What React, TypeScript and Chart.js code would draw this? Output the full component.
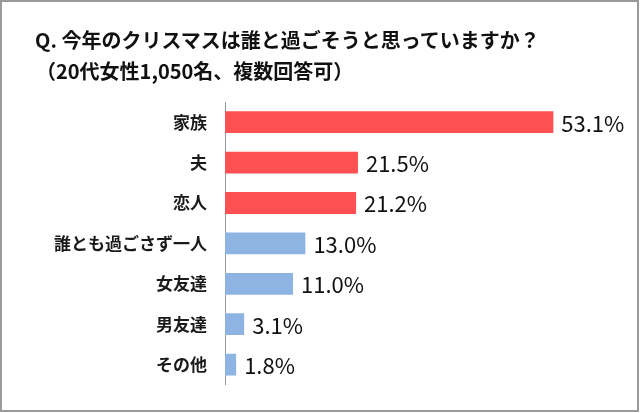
import React, { useEffect, useRef } from "react";
import { Chart, registerables } from "chart.js";

Chart.register(...registerables);

const categories = ["家族", "夫", "恋人", "誰とも過ごさず一人", "女友達", "男友達", "その他"];
const values = [53.1, 21.5, 21.2, 13.0, 11.0, 3.1, 1.8];
const barColors = ["#fd5052", "#fd5052", "#fd5052", "#8eb4e3", "#8eb4e3", "#8eb4e3", "#8eb4e3"];
const titleLine1 = "Q. 今年のクリスマスは誰と過ごそうと思っていますか？";
const titleLine2 = "（20代女性1,050名、複数回答可）";
const xMax = 60;

const FONT = "'Noto Sans CJK JP', 'Noto Sans', sans-serif";

const valueLabelPlugin = {
  id: "valueLabels",
  afterDatasetsDraw(chart: any) {
    const ctx = chart.ctx;
    const meta = chart.getDatasetMeta(0);
    ctx.save();
    ctx.font = `400 22px ${FONT}`;
    ctx.fillStyle = "#111";
    ctx.textAlign = "left";
    ctx.textBaseline = "middle";
    meta.data.forEach((bar: any, i: number) => {
      const v = chart.data.datasets[0].data[i] as number;
      ctx.fillText(v.toFixed(1) + "%", bar.x + 8, bar.y + 1);
    });
    ctx.restore();
  },
};

export default function App() {
  const canvasRef = useRef<HTMLCanvasElement | null>(null);

  useEffect(() => {
    document.body.style.margin = "0";
    const canvas = canvasRef.current;
    if (!canvas) return;
    const chart = new Chart(canvas, {
      type: "bar",
      data: {
        labels: categories,
        datasets: [
          {
            data: values,
            backgroundColor: barColors,
            borderWidth: 0,
            barPercentage: 0.54,
            categoryPercentage: 1,
          },
        ],
      },
      options: {
        indexAxis: "y",
        animation: false,
        responsive: false,
        maintainAspectRatio: false,
        layout: { padding: { left: 0, top: 102, bottom: 23, right: 44 } },
        plugins: {
          legend: { display: false },
          tooltip: { enabled: false },
          title: { display: false },
        },
        scales: {
          x: {
            display: false,
            min: 0,
            max: xMax,
          },
          y: {
            afterFit(scale: any) {
              scale.width = 225;
            },
            grid: { display: false, drawTicks: false },
            border: { display: true, color: "#999", width: 1 },
            ticks: {
              padding: 18,
              color: "#1a1a1a",
              font: { family: FONT, size: 17, weight: "bold" as any },
            },
          },
        },
      },
      plugins: [valueLabelPlugin],
    });
    return () => chart.destroy();
  }, []);

  const titleStyle: React.CSSProperties = {
    position: "absolute",
    fontSize: 20,
    lineHeight: "20px",
    fontWeight: 700,
    color: "#111",
    whiteSpace: "nowrap",
  };

  return (
    <div style={{ position: "relative", width: 640, height: 413, background: "#fff", fontFamily: FONT }}>
      <canvas ref={canvasRef} width={640} height={413} style={{ position: "absolute", left: 0, top: 0, width: 640, height: 413 }} />
      <div style={{ ...titleStyle, left: 35, top: 30 }}>{titleLine1}</div>
      <div style={{ ...titleStyle, left: 36, top: 61 }}>{titleLine2}</div>
      <div
        style={{
          position: "absolute",
          left: 0,
          top: 0,
          width: 639,
          height: 412,
          boxSizing: "border-box",
          border: "2px solid #9a9a9a",
          pointerEvents: "none",
        }}
      />
    </div>
  );
}
